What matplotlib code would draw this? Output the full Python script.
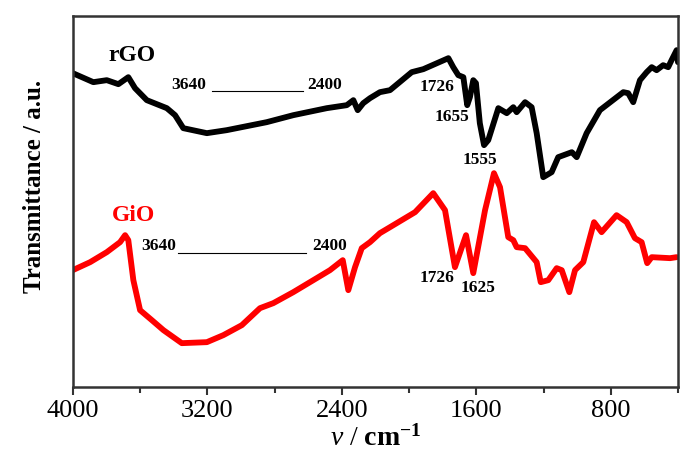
import numpy as np
import matplotlib.pyplot as plt
from matplotlib.ticker import MultipleLocator

plt.rcParams['font.family'] = ['Liberation Serif', 'DejaVu Serif']
plt.rcParams['mathtext.fontset'] = 'custom'
plt.rcParams['mathtext.rm'] = 'Liberation Serif'
plt.rcParams['mathtext.it'] = 'Liberation Serif:italic'
plt.rcParams['mathtext.bf'] = 'Liberation Serif:bold'

# rGO spectrum (wavenumber, transmittance in arbitrary units)
wn_rgo = [4000, 3878, 3798, 3729, 3670, 3630, 3560, 3441, 3392, 3343, 3203, 3085,
          2966, 2847, 2689, 2490, 2371, 2332, 2306, 2273, 2233, 2174, 2114, 1985,
          1916, 1767, 1738, 1708, 1678, 1655, 1639, 1619, 1603, 1580, 1555, 1530,
          1470, 1420, 1381, 1361, 1311, 1272, 1242, 1203, 1153, 1114, 1033, 1004,
          945, 866, 727, 698, 668, 628, 588, 558, 529, 490, 460, 440, 410, 402]
t_rgo = [314, 305, 307, 303, 310, 299, 287, 279, 272, 259, 254, 257,
         261, 265, 272, 279, 282, 287, 277, 284, 289, 295, 297, 315,
         318, 329, 320, 312, 310, 282, 290, 307, 304, 264, 242, 247,
         279, 274, 280, 275, 285, 280, 254, 210, 215, 230, 235, 230,
         254, 277, 295, 294, 285, 307, 315, 320, 317, 322, 320, 327, 337, 325]

# GiO spectrum
wn_gio = [4000, 3897, 3798, 3719, 3689, 3670, 3640, 3600, 3530, 3461, 3352, 3203,
          3105, 2995, 2887, 2808, 2689, 2570, 2471, 2395, 2362, 2322, 2282, 2233,
          2174, 2114, 1965, 1857, 1787, 1728, 1662, 1619, 1549, 1496, 1460, 1411,
          1381, 1361, 1311, 1242, 1218, 1173, 1123, 1093, 1048, 1014, 965, 901,
          856, 767, 707, 658, 618, 585, 558, 449, 410]
t_gio = [117, 125, 135, 145, 152, 147, 107, 77, 67, 57, 44, 45,
         52, 62, 79, 84, 95, 107, 117, 127, 97, 120, 139, 145,
         154, 160, 175, 194, 177, 120, 152, 114, 177, 214, 200, 150,
         147, 140, 139, 125, 105, 107, 119, 117, 95, 117, 125, 165,
         155, 172, 165, 149, 145, 124, 130, 129, 130]

fig = plt.figure(figsize=(7, 4.62), dpi=100)
ax = fig.add_axes([0.104, 0.162, 0.865, 0.803])

ax.plot(wn_rgo, t_rgo, color='black', lw=4.2, solid_joinstyle='round', solid_capstyle='round')
ax.plot(wn_gio, t_gio, color='red', lw=4.2, solid_joinstyle='round', solid_capstyle='round')

ax.set_xlim(4000, 400)
ax.set_ylim(0, 371)

# labels on the curves
ax.text(3649, 332, 'rGO', fontsize=17, fontweight='bold', ha='center', va='center')
ax.text(3640, 172, 'GiO', fontsize=17, fontweight='bold', color='red', ha='center', va='center')

ann = dict(fontsize=12.5, fontweight='bold', ha='center', va='center')
ax.text(3313, 302, '3640', **ann)
ax.plot([3174, 2633], [296, 296], color='black', lw=0.8)
ax.text(2500, 302, '2400', **ann)
ax.text(1836, 300, '1726', **ann)
ax.text(1747, 270, '1655', **ann)
ax.text(1579, 227, '1555', **ann)

ax.text(3491, 141, '3640', **ann)
ax.plot([3372, 2615], [134, 134], color='black', lw=0.8)
ax.text(2471, 141, '2400', **ann)
ax.text(1836, 109, '1726', **ann)
ax.text(1589, 99, '1625', **ann)

ax.xaxis.set_major_locator(MultipleLocator(800))
ax.xaxis.set_minor_locator(MultipleLocator(400))
ax.tick_params(axis='x', which='major', direction='out', length=6, width=1.5, labelsize=19, color='#333333')
ax.tick_params(axis='x', which='minor', direction='out', length=4, width=1.5, color='#333333')
ax.set_yticks([])
for s in ax.spines.values():
    s.set_linewidth(1.8)
    s.set_color('#333333')

ax.set_xlabel(r'$\mathit{v}$ / $\mathbf{cm^{-1}}$', fontsize=20, labelpad=2)
ax.set_ylabel('Transmittance / a.u.', fontsize=18, fontweight='bold')
ax.yaxis.set_label_coords(-0.045, 0.54)

fig.savefig('out.png', dpi=100)
